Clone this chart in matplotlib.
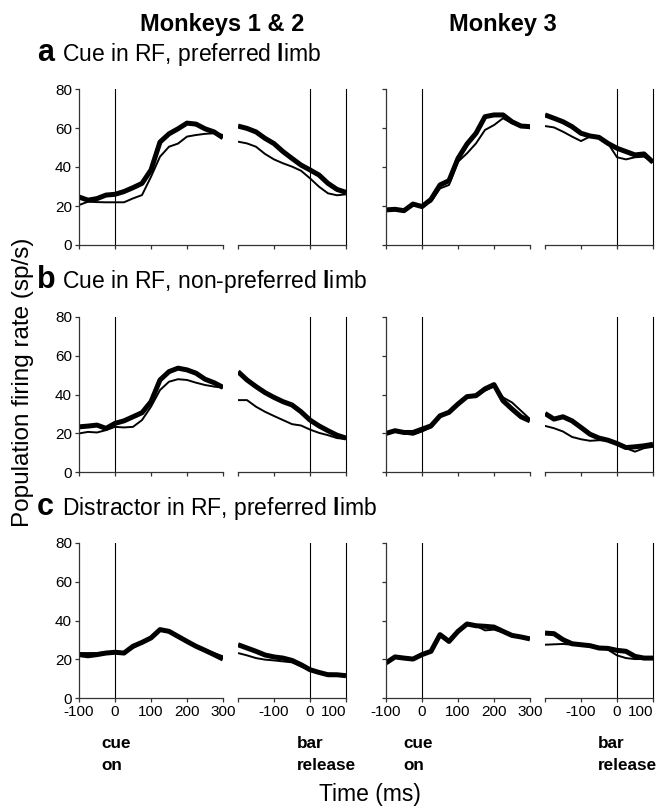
import numpy as np
import matplotlib
matplotlib.use("Agg")
import matplotlib.pyplot as plt

plt.rcParams['font.family'] = ['Liberation Sans', 'DejaVu Sans']
plt.rcParams['mathtext.fontset'] = 'custom'
plt.rcParams['mathtext.rm'] = 'Liberation Sans'
plt.rcParams['mathtext.bf'] = 'Liberation Sans:bold'

W, H = 660, 807

# time bases (ms)
cue_t = [-100, -75, -50, -25, 0, 25, 50, 75, 100, 125, 150, 175, 200, 225, 250, 275, 300]
bar_t = [-200, -175, -150, -125, -100, -75, -50, -25, 0, 25, 50, 75, 100]

# a: cue in RF, preferred limb -- monkeys 1 & 2
a12_cue_thick = [24.6, 23, 23.8, 25.6, 26, 27.4, 29.4, 31.6, 38.5, 52.8, 57, 59.6, 62.5, 62, 59.6, 58, 55]
a12_cue_thin = [20.5, 22.2, 22, 21.9, 21.9, 21.9, 23.9, 25.6, 35, 45.3, 50.4, 52, 55.6, 56.4, 57, 57.3, 56.4]
a12_bar_thick = [61, 59.8, 58, 54.7, 52, 47.9, 44.4, 41, 38.5, 35.9, 31.6, 28.5, 27]
a12_bar_thin = [53, 52.1, 50.4, 46.7, 43.9, 41.9, 40.2, 38.1, 34.2, 29.9, 26.5, 25.5, 26]
# a -- monkey 3
a3_cue_thick = [18, 18.3, 17.6, 21, 19.7, 23.4, 30.8, 33, 44.4, 51.8, 57.3, 65.8, 66.7, 66.7, 63.2, 61, 60.7]
a3_cue_thin = [18, 18.3, 18, 20, 20, 22.2, 29, 30.8, 42.7, 47, 52.1, 59, 61.5, 65, 62.4, 61, 59.8]
a3_bar_thick = [66.7, 65, 63.2, 60.7, 57.3, 55.9, 55.2, 52.1, 49.6, 47.9, 46.2, 46.7, 42.4]
a3_bar_thin = [61, 60.3, 58.1, 55.6, 53.3, 55.6, 55.6, 52.1, 45, 43.9, 45, 45.3, 42.4]

# b: cue in RF, non-preferred limb -- monkeys 1 & 2
b12_cue_thick = [23.3, 23.7, 24.2, 22.5, 25.1, 26.4, 28.5, 30.6, 36.3, 47.5, 51.8, 53.6, 52.7, 51, 47.9, 46.1, 43.7]
b12_cue_thin = [19.9, 20.7, 20.4, 21.6, 23.3, 23, 23.3, 26.8, 33.7, 42.3, 46.6, 47.9, 47.5, 46.1, 44.9, 44.1, 43.5]
b12_bar_thick = [51.8, 47.5, 44.1, 41, 38.5, 36.3, 34.6, 31.1, 26.8, 23.8, 21.3, 19, 17.5]
b12_bar_thin = [37.1, 37.1, 33.7, 31.1, 28.9, 26.8, 24.7, 24, 21.9, 20.2, 19, 17.5, 17]
# b -- monkey 3
b3_cue_thick = [19.9, 21.3, 20.4, 20.4, 22.1, 23.8, 29, 30.8, 35.1, 38.9, 39.4, 42.9, 45.1, 36.8, 32.5, 28.5, 26.4]
b3_cue_thin = [19.9, 20.9, 19.9, 19.2, 20.9, 23, 29, 30.2, 34.7, 38.5, 39.4, 42, 44.1, 38.5, 35.9, 31.6, 27.3]
b3_bar_thick = [30.2, 27.3, 28.5, 26.4, 23, 19.5, 17.5, 16.4, 14.7, 12.6, 13, 13.5, 14.3]
b3_bar_thin = [23.8, 22.6, 20.9, 18.1, 16.9, 16.1, 16.4, 16.4, 14.3, 12.3, 10.5, 12.3, 13]

# c: distractor in RF, preferred limb -- monkeys 1 & 2
c12_cue_thick = [22.4, 21.8, 22.4, 23.2, 23.6, 23.2, 26.7, 28.7, 31, 35.3, 34.4, 31.8, 29.2, 26.7, 24.6, 22.4, 20.1]
c12_cue_thin = [23.2, 23.2, 23.2, 23.6, 23.6, 23.2, 25.8, 28.4, 30.6, 34.9, 33.9, 31.3, 28.7, 26.7, 24.9, 23.2, 21.5]
c12_bar_thick = [27.5, 25.8, 24.1, 22.2, 21.2, 20.6, 19.4, 17.2, 14.6, 13.2, 12, 12, 11.5]
c12_bar_thin = [23.2, 22, 20.6, 19.8, 19.4, 18.9, 18.4, 16.3, 14.6, 13.2, 12.6, 12.3, 12]
# c -- monkey 3
c3_cue_thick = [18.1, 21.2, 20.6, 20.1, 22.4, 24.1, 32.7, 29.2, 34.4, 38.2, 37.3, 37, 36.6, 34.4, 32.3, 31.5, 30.5]
c3_cue_thin = [18.1, 21.2, 20.6, 20.1, 22.4, 24.1, 32.7, 29.2, 34.4, 38.2, 37.3, 34.9, 35.3, 33.9, 32.3, 31.5, 30.5]
c3_bar_thick = [33.5, 33.2, 30.1, 28, 27.5, 27, 25.8, 25.6, 24.6, 24.1, 21.5, 20.6, 20.6]
c3_bar_thin = [27.5, 27.7, 27.9, 27.5, 27.9, 27, 26.3, 24.9, 22, 20.6, 20.1, 20.1, 20.3]

yticks = [0, 20, 40, 60, 80]
cue_ticks = [-100, 0, 100, 200, 300]
cue_ticklabels = ['-100', '0', '100', '200', '300']
bar_ticks = [-200, -100, 0, 100]
bar_ticklabels = ['', '-100', '0', '100']

row_titles = ['Cue in RF, preferred $\\mathbf{l}$imb',
              'Cue in RF, non-preferred $\\mathbf{l}$imb',
              'Distractor in RF, preferred $\\mathbf{l}$imb']
row_letters = ['a', 'b', 'c']

fig = plt.figure(figsize=(W / 100, H / 100), dpi=100)


def rect(x0, x1, y0, y1):
    return [x0 / W, 1 - y1 / H, (x1 - x0) / W, (y1 - y0) / H]


def panel(r, t, thick, thin, kind, show_y, show_x):
    ax = fig.add_axes(r)
    ax.plot(t, thin, color='black', lw=1.4, solid_capstyle='butt')
    ax.plot(t, thick, color='black', lw=3.6, solid_capstyle='butt', solid_joinstyle='round')
    ax.set_ylim(0, 80)
    for s in ['top', 'right']:
        ax.spines[s].set_visible(False)
    for s in ['bottom', 'left']:
        ax.spines[s].set_linewidth(0.9)
        ax.spines[s].set_color('#333333')
    ax.tick_params(direction='out', length=3, width=0.9, color='#333333', pad=2,
                   labelsize=11)
    if kind == 'cue':
        ax.set_xlim(-100, 300)
        ax.set_xticks(cue_ticks)
        ax.set_xticklabels(cue_ticklabels if show_x else [''] * 5)
        ax.axvline(0, color='black', lw=0.8)
        ax.set_yticks(yticks)
        ax.set_yticklabels([str(v) for v in yticks] if show_y else [''] * 5)
    else:
        ax.set_xlim(-200, 100)
        ax.set_xticks(bar_ticks)
        ax.set_xticklabels(bar_ticklabels if show_x else [''] * 4)
        ax.get_xticklabels()[-1].set_horizontalalignment('right')
        ax.axvline(0, color='black', lw=0.8)
        ax.axvline(100, color='black', lw=0.8, clip_on=False)
        ax.spines['left'].set_visible(False)
        ax.set_yticks([])
    ax.patch.set_alpha(0)
    return ax


rows = [(89, 245), (317, 472), (543, 698)]
cols = [(79, 223), (238, 346), (386, 530), (545, 653)]

data = [
    [(a12_cue_thick, a12_cue_thin), (a12_bar_thick, a12_bar_thin),
     (a3_cue_thick, a3_cue_thin), (a3_bar_thick, a3_bar_thin)],
    [(b12_cue_thick, b12_cue_thin), (b12_bar_thick, b12_bar_thin),
     (b3_cue_thick, b3_cue_thin), (b3_bar_thick, b3_bar_thin)],
    [(c12_cue_thick, c12_cue_thin), (c12_bar_thick, c12_bar_thin),
     (c3_cue_thick, c3_cue_thin), (c3_bar_thick, c3_bar_thin)],
]

for i, (y0, y1) in enumerate(rows):
    for j, (x0, x1) in enumerate(cols):
        kind = 'cue' if j % 2 == 0 else 'bar'
        t = cue_t if kind == 'cue' else bar_t
        thick, thin = data[i][j]
        panel(rect(x0, x1, y0, y1), t, thick, thin, kind, show_y=(j == 0), show_x=(i == 2))

# column headers
fig.text(222 / W, 1 - 31 / H, 'Monkeys 1 & 2', ha='center', va='baseline',
         fontsize=17, fontweight='bold')
fig.text(503 / W, 1 - 31 / H, 'Monkey 3', ha='center', va='baseline',
         fontsize=17, fontweight='bold')

# row titles
baselines = [61, 288, 515]
for letter, title, yb in zip(row_letters, row_titles, baselines):
    fig.text(37 / W, 1 - yb / H, letter, ha='left', va='baseline',
             fontsize=22, fontweight='bold')
    fig.text(62 / W, 1 - yb / H, title, ha='left', va='baseline', fontsize=16.5)

# event labels
for x in (101, 403):
    fig.text(x / W, 1 - 770 / H, 'cue\non', ha='left', va='baseline',
             fontsize=12.3, fontweight='bold', linespacing=1.6)
for x in (297, 598):
    fig.text(x / W, 1 - 770 / H, 'bar\nrelease', ha='left', va='baseline',
             fontsize=12.3, fontweight='bold', linespacing=1.6)

fig.text(23 / W, 1 - 382 / H, 'Population firing rate (sp/s)', rotation=90,
         ha='center', va='center', fontsize=17.5)
fig.text(370 / W, 1 - 801 / H, 'Time (ms)', ha='center', va='baseline', fontsize=16.5)

fig.savefig('out.png', dpi=100)
